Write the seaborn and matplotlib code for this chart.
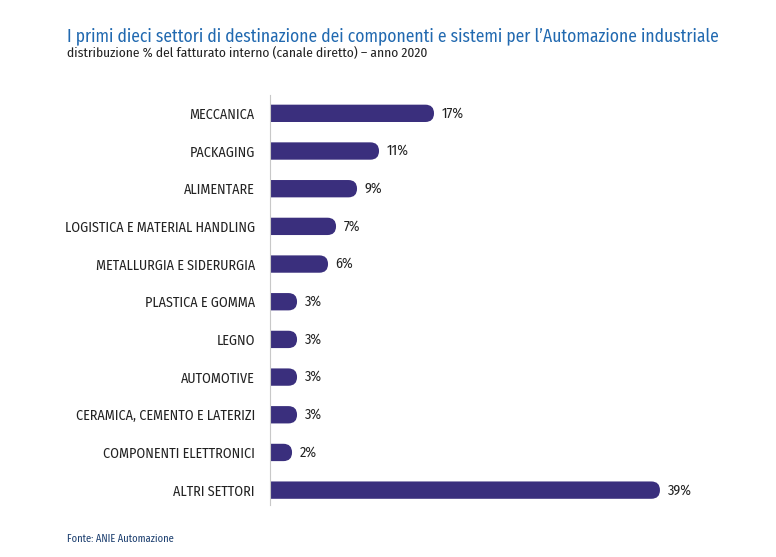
import matplotlib
matplotlib.use("Agg")
import matplotlib.pyplot as plt
import seaborn as sns
import pandas as pd
from matplotlib.patches import FancyBboxPatch

# dati
settori = ["MECCANICA", "PACKAGING", "ALIMENTARE", "LOGISTICA E MATERIAL HANDLING",
           "METALLURGIA E SIDERURGIA", "PLASTICA E GOMMA", "LEGNO", "AUTOMOTIVE",
           "CERAMICA, CEMENTO E LATERIZI", "COMPONENTI ELETTRONICI", "ALTRI SETTORI"]
quote = [16.4, 10.9, 8.7, 6.6, 5.8, 2.7, 2.7, 2.7, 2.7, 2.2, 39.0]
etichette = ["17%", "11%", "9%", "7%", "6%", "3%", "3%", "3%", "3%", "2%", "39%"]

df = pd.DataFrame({"settore": settori, "quota": quote})

sns.set_theme(style="white")
plt.rcParams["font.family"] = ["Fira Sans Condensed", "Asap Condensed", "DejaVu Sans"]

colore = "#3a2f7d"
fig = plt.figure(figsize=(7.76, 5.57), dpi=100)
ax = fig.add_axes([0.348, 0.093, 0.554, 0.736])

sns.barplot(data=df, x="quota", y="settore", color=colore, width=0.46,
            saturation=1, ax=ax)

ax.set_xlim(0, 43)
ax.set_ylim(10.4, -0.48)

# barre con estremità destra arrotondata
fig.canvas.draw()
px_x = ax.transData.transform((1, 0))[0] - ax.transData.transform((0, 0))[0]
px_y = abs(ax.transData.transform((0, 1))[1] - ax.transData.transform((0, 0))[1])
for p in list(ax.patches):
    x0, y0, w, h = p.get_x(), p.get_y(), p.get_width(), p.get_height()
    r = (h / 2) * px_y / px_x
    asp = (h / 2) / r
    p.remove()
    bar = FancyBboxPatch((x0 - r * 2, y0), w + r * 2, h,
                         boxstyle=f"round,pad=0,rounding_size={r}",
                         mutation_aspect=asp, facecolor=colore, edgecolor="none")
    ax.add_patch(bar)
    bar.set_clip_path(ax.patch)

for i, (v, t) in enumerate(zip(quote, etichette)):
    ax.text(v + 0.75, i, t, va="center", ha="left", fontsize=10.3, color="#222222")

ax.set_xlabel("")
ax.set_ylabel("")
ax.set_xticks([])
ax.tick_params(axis="y", length=0, pad=11, labelsize=10.1, labelcolor="#222222")
for s in ["top", "right", "bottom"]:
    ax.spines[s].set_visible(False)
ax.spines["left"].set_color("#c8c8c8")
ax.spines["left"].set_linewidth(0.8)

fig.text(0.086, 0.925, "I primi dieci settori di destinazione dei componenti e sistemi per l\u2019Automazione industriale",
         fontsize=12.6, color="#2169b0", ha="left", va="baseline")
fig.text(0.086, 0.898, "distribuzione % del fatturato interno (canale diretto) \u2013 anno 2020",
         fontsize=9.7, color="#222222", ha="left", va="baseline")
fig.text(0.086, 0.027, "Fonte: ANIE Automazione", fontsize=7.5, color="#1a3d6e",
         ha="left", va="baseline")

fig.savefig("out.png", dpi=100)
